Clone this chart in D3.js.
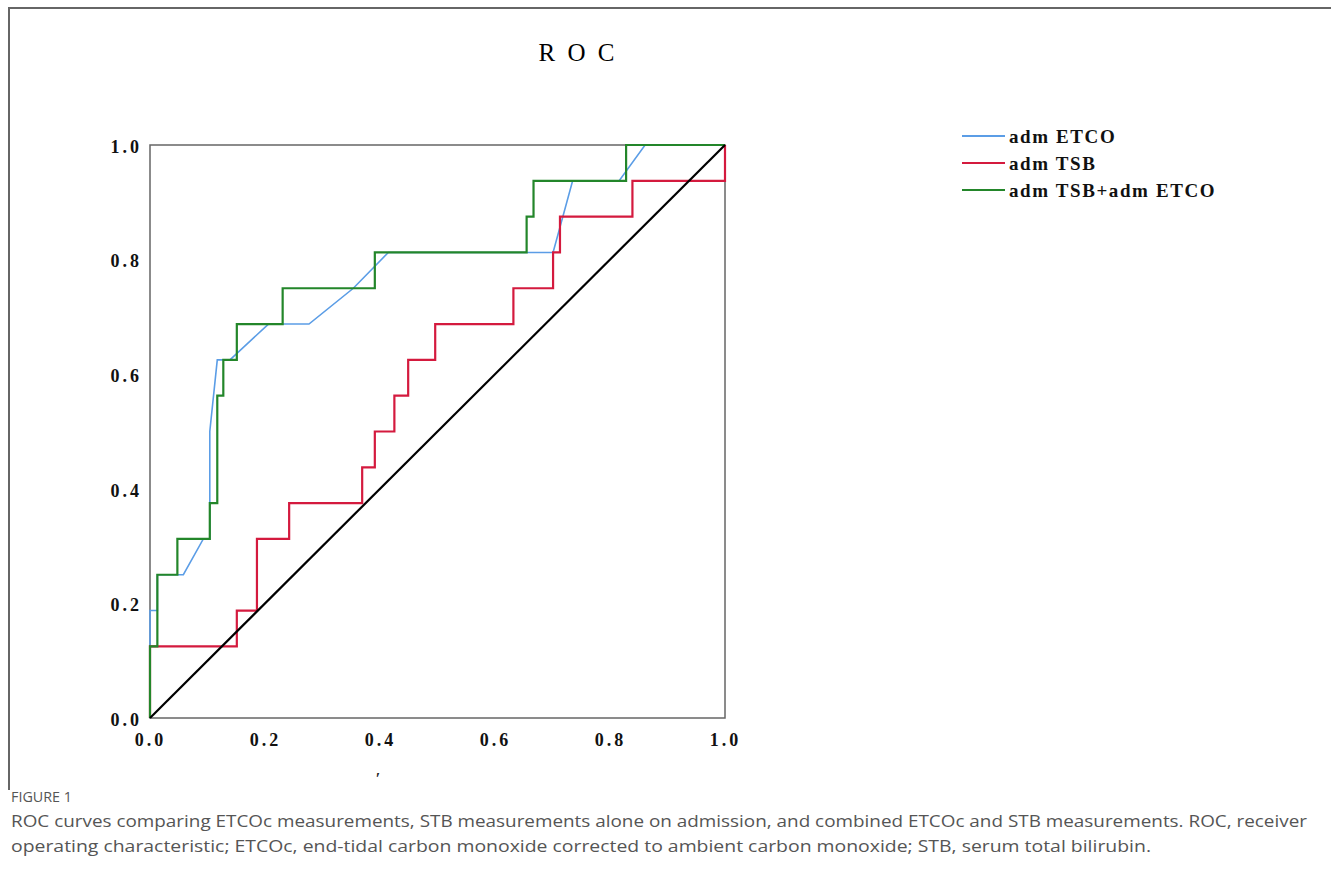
<!DOCTYPE html>
<html>
<head>
<meta charset="utf-8">
<script src="https://cdn.jsdelivr.net/npm/d3@7"></script>
<style>
  body { margin: 0; background: #fff; }
  svg { display: block; }
</style>
</head>
<body>
<svg id="chart" width="1331" height="888"></svg>
<script>
// ROC points (x = 1 - specificity, y = sensitivity)
const etcoFpr = [0, 0, 0.0128, 0.0128, 0.058, 0.0927, 0.104, 0.104, 0.117, 0.139, 0.206, 0.2765, 0.3536, 0.4145, 0.701, 0.735, 0.816, 0.861, 1];
const etcoTpr = [0, 0.1875, 0.1875, 0.25, 0.25, 0.3125, 0.3125, 0.5, 0.625, 0.625, 0.6875, 0.6875, 0.75, 0.8125, 0.8125, 0.9375, 0.9375, 1, 1];

const tsbFpr = [0, 0, 0.151, 0.151, 0.186, 0.186, 0.242, 0.242, 0.369, 0.369, 0.391, 0.391, 0.425, 0.425, 0.449, 0.449, 0.496, 0.496, 0.632, 0.632, 0.701, 0.701, 0.713, 0.713, 0.839, 0.839, 1, 1];
const tsbTpr = [0, 0.125, 0.125, 0.1875, 0.1875, 0.3125, 0.3125, 0.375, 0.375, 0.4375, 0.4375, 0.5, 0.5, 0.5625, 0.5625, 0.625, 0.625, 0.6875, 0.6875, 0.75, 0.75, 0.8125, 0.8125, 0.875, 0.875, 0.9375, 0.9375, 1];

const bothFpr = [0, 0, 0.0128, 0.0128, 0.0476, 0.0476, 0.104, 0.104, 0.117, 0.117, 0.1275, 0.1275, 0.151, 0.151, 0.2307, 0.2307, 0.391, 0.391, 0.655, 0.655, 0.667, 0.667, 0.828, 0.828, 1];
const bothTpr = [0, 0.125, 0.125, 0.25, 0.25, 0.3125, 0.3125, 0.375, 0.375, 0.5625, 0.5625, 0.625, 0.625, 0.6875, 0.6875, 0.75, 0.75, 0.8125, 0.8125, 0.875, 0.875, 0.9375, 0.9375, 1, 1];

const refFpr = [0, 1];
const refTpr = [0, 1];

const tickValues = [0, 0.2, 0.4, 0.6, 0.8, 1.0];
const seriesNames = ['adm ETCO', 'adm TSB', 'adm TSB+adm ETCO'];
const seriesColors = ['#5b9de6', '#d41a3e', '#23862a'];

const captionHead = 'FIGURE 1';
const captionLines = [
  'ROC curves comparing ETCOc measurements, STB measurements alone on admission, and combined ETCOc and STB measurements. ROC, receiver',
  'operating characteristic; ETCOc, end-tidal carbon monoxide corrected to ambient carbon monoxide; STB, serum total bilirubin.'
];

const svg = d3.select('#chart');
const serif = '"Liberation Serif", "DejaVu Serif", serif';

// outer frame (top and left edges only)
svg.append('path')
  .attr('d', 'M9,790 L9,8 L1331,8')
  .attr('fill', 'none')
  .attr('stroke', '#666')
  .attr('stroke-width', 2);

const x = d3.scaleLinear().domain([0, 1]).range([150, 725]);
const y = d3.scaleLinear().domain([0, 1]).range([718, 145]);

// title
svg.append('text')
  .attr('x', 578).attr('y', 61)
  .attr('text-anchor', 'middle')
  .attr('font-family', serif)
  .attr('font-size', 25)
  .attr('letter-spacing', 3)
  .text('R O C');

// plot box
svg.append('rect')
  .attr('x', x(0)).attr('y', y(1))
  .attr('width', x(1) - x(0)).attr('height', y(0) - y(1))
  .attr('fill', 'none')
  .attr('stroke', '#666')
  .attr('stroke-width', 1.5);

// axes (labels only, no tick marks)
const xAxis = svg.append('g')
  .attr('transform', `translate(0,${y(0)})`)
  .call(d3.axisBottom(x).tickValues(tickValues).tickFormat(d3.format('.1f')).tickSize(0).tickPadding(22));
const yAxis = svg.append('g')
  .attr('transform', `translate(${x(0)},0)`)
  .call(d3.axisLeft(y).tickValues(tickValues).tickFormat(d3.format('.1f')).tickSize(0).tickPadding(8));
[xAxis, yAxis].forEach(a => {
  a.select('.domain').remove();
  a.selectAll('text')
    .attr('font-family', serif)
    .attr('font-weight', 'bold')
    .attr('font-size', 18)
    .attr('letter-spacing', 3)
    .attr('fill', '#111');
});
xAxis.selectAll('text').attr('dy', '0.35em');
yAxis.selectAll('text').attr('dy', '0.4em');

const line = d3.line().x(d => x(d[0])).y(d => y(d[1]));
const series = [
  { fpr: etcoFpr, tpr: etcoTpr, color: seriesColors[0], w: 1.6 },
  { fpr: tsbFpr, tpr: tsbTpr, color: seriesColors[1], w: 2.2 },
  { fpr: bothFpr, tpr: bothTpr, color: seriesColors[2], w: 2.2 },
  { fpr: refFpr, tpr: refTpr, color: '#000', w: 2.2 }
];
series.forEach(s => {
  svg.append('path')
    .datum(d3.zip(s.fpr, s.tpr))
    .attr('d', line)
    .attr('fill', 'none')
    .attr('stroke', s.color)
    .attr('stroke-width', s.w)
    .attr('stroke-linejoin', 'miter');
});

// legend
const legend = svg.append('g').attr('transform', 'translate(962,136)');
seriesNames.forEach((name, i) => {
  const row = legend.append('g').attr('transform', `translate(0,${i * 27})`);
  row.append('line')
    .attr('x1', 0).attr('x2', 43)
    .attr('stroke', seriesColors[i])
    .attr('stroke-width', 2);
  row.append('text')
    .attr('x', 47).attr('y', 7)
    .attr('font-family', serif)
    .attr('font-weight', 'bold')
    .attr('font-size', 19)
    .attr('letter-spacing', 1.6)
    .attr('fill', '#111')
    .text(name);
});

// stray mark under the x axis
svg.append('text')
  .attr('x', 378).attr('y', 784)
  .attr('text-anchor', 'middle')
  .attr('font-family', serif)
  .attr('font-size', 16)
  .attr('font-weight', 'bold')
  .attr('fill', '#222')
  .text('\u2032');

// caption
svg.append('text')
  .attr('x', 11).attr('y', 802)
  .attr('font-family', '"Open Sans", sans-serif')
  .attr('font-size', 14)
  .attr('fill', '#555')
  .attr('textLength', 61)
  .attr('lengthAdjust', 'spacingAndGlyphs')
  .text(captionHead);
const widths = [1296, 1140];
captionLines.forEach((t, i) => {
  svg.append('text')
    .attr('x', 11).attr('y', 827 + i * 25)
    .attr('font-family', '"Open Sans", sans-serif')
    .attr('font-size', 17)
    .attr('fill', '#555')
    .attr('textLength', widths[i])
    .attr('lengthAdjust', 'spacingAndGlyphs')
    .text(t);
});
</script>
</body>
</html>
